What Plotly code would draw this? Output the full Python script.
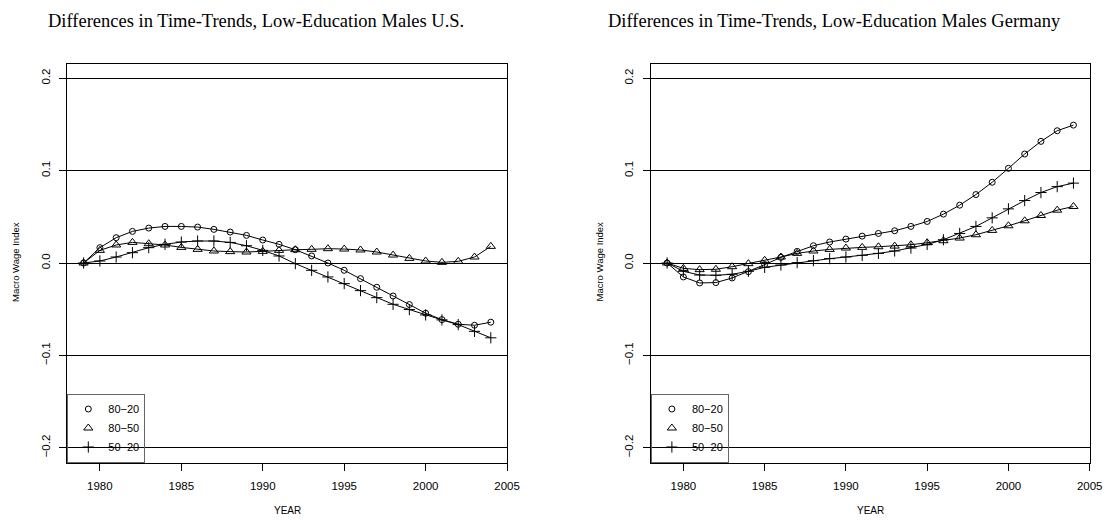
import plotly.graph_objects as go

# Data
years = list(range(1979, 2005))

us_80_20 = [0.0, 0.0166, 0.0274, 0.0342, 0.0378, 0.0396, 0.0396, 0.0389, 0.0364, 0.0335,
            0.0299, 0.0249, 0.0202, 0.0144, 0.0076, 0.0, -0.0079, -0.0169, -0.0263, -0.0357,
            -0.0450, -0.0544, -0.0613, -0.0663, -0.0674, -0.0641]
us_80_50 = [0.0, 0.0137, 0.0195, 0.0223, 0.0209, 0.0195, 0.0169, 0.0148, 0.0130, 0.0123,
            0.0119, 0.0126, 0.0137, 0.0144, 0.0148, 0.0155, 0.0151, 0.0141, 0.0119, 0.0086,
            0.0050, 0.0022, 0.0007, 0.0018, 0.0065, 0.0180]
us_50_20 = [0.0, 0.0022, 0.0065, 0.0112, 0.0166, 0.0202, 0.0227, 0.0238, 0.0238, 0.0223,
            0.0187, 0.0137, 0.0076, -0.0007, -0.0079, -0.0151, -0.0223, -0.0299, -0.0375, -0.0447,
            -0.0504, -0.0562, -0.0616, -0.0667, -0.0740, -0.0810]

de_80_20 = [0.0, -0.0151, -0.0216, -0.0212, -0.0162, -0.0094, -0.0018, 0.0061, 0.0126, 0.0187,
            0.0227, 0.0259, 0.0291, 0.0320, 0.0349, 0.0396, 0.0450, 0.0529, 0.0626, 0.0741,
            0.0874, 0.1025, 0.1180, 0.1317, 0.1432, 0.1493]
de_80_50 = [0.0, -0.0058, -0.0072, -0.0068, -0.0040, -0.0007, 0.0029, 0.0065, 0.0104, 0.0130,
            0.0147, 0.0162, 0.0169, 0.0176, 0.0183, 0.0198, 0.0219, 0.0241, 0.0270, 0.0306,
            0.0353, 0.0403, 0.0457, 0.0514, 0.0572, 0.0612]
de_50_20 = [0.0, -0.0090, -0.0130, -0.0133, -0.0122, -0.0090, -0.0047, -0.0022, 0.0004, 0.0025,
            0.0047, 0.0065, 0.0083, 0.0104, 0.0130, 0.0162, 0.0201, 0.0252, 0.0320, 0.0396,
            0.0489, 0.0586, 0.0676, 0.0763, 0.0827, 0.0865]

series_names = ["80\u221220", "80\u221250", "50\u221220"]
symbols = ["circle-open", "triangle-up-open", "cross-thin-open"]
sizes = [6, 8, 8]

titles = ["Differences in Time-Trends, Low-Education Males U.S.",
          "Differences in Time-Trends, Low-Education Males Germany"]
x_ticks = [1980, 1985, 1990, 1995, 2000, 2005]
y_ticks = [-0.2, -0.1, 0.0, 0.1, 0.2]

# the page body has an 8px margin, so the figure itself is 8px smaller each way
OFF = 8
W, H = 1119 - OFF, 520 - OFF


def px(x):
    return (x - OFF) / W


def py(y):
    return 1 - (y - OFF) / H


fig = go.Figure()

panels = [(us_80_20, us_80_50, us_50_20), (de_80_20, de_80_50, de_50_20)]
for p, panel in enumerate(panels):
    xa = "x" if p == 0 else "x2"
    ya = "y" if p == 0 else "y2"
    leg = "legend" if p == 0 else "legend2"
    for vals, sym, sz in zip(panel, symbols, sizes):
        fig.add_trace(go.Scatter(x=years, y=vals, mode="lines+markers",
                                 line=dict(color="black", width=1),
                                 marker=dict(symbol=sym, size=sz, color="black",
                                             line=dict(color="black", width=1)),
                                 xaxis=xa, yaxis=ya, showlegend=False, hoverinfo="x+y"))
    # legend entries show only the symbol, like the original
    for name, sym, sz in zip(series_names, symbols, sizes):
        fig.add_trace(go.Scatter(x=[None], y=[None], mode="markers", name=name,
                                 marker=dict(symbol=sym, size=sz, color="black",
                                             line=dict(color="black", width=1)),
                                 xaxis=xa, yaxis=ya, legend=leg))

tick_font = dict(family="Liberation Sans, Arial, sans-serif", size=11.5, color="black")
axis_common = dict(showline=True, mirror=True, linecolor="black", linewidth=1,
                   ticks="outside", ticklen=7, tickwidth=1, tickcolor="black",
                   tickfont=tick_font, zeroline=False)

box_x = [(68, 513), (658.5, 1102.5)]
box_y = (63.5, 462.5)

layout = dict(width=W, height=H, autosize=False,
              margin=dict(l=0, r=0, t=0, b=0),
              paper_bgcolor="white", plot_bgcolor="white",
              font=dict(family="Liberation Sans, Arial, sans-serif", color="black"))

for p in range(2):
    sfx = "" if p == 0 else "2"
    layout["xaxis" + sfx] = dict(axis_common, domain=[px(box_x[p][0]), px(box_x[p][1])],
                                 range=[1978, 2005], tickvals=x_ticks, showgrid=False,
                                 ticklabelstandoff=6,
                                 anchor="y" + sfx)
    layout["yaxis" + sfx] = dict(axis_common, domain=[py(box_y[1]), py(box_y[0])],
                                 range=[-0.216, 0.216], tickvals=y_ticks,
                                 ticktext=["\u22120.2", "\u22120.1", "0.0", "0.1", "0.2"],
                                 tickangle=-90, showgrid=True, gridcolor="black", gridwidth=1,
                                 ticklabelstandoff=5,
                                 anchor="x" + sfx)
    layout["legend" + sfx] = dict(x=px(box_x[p][0]), y=py(box_y[1]), xanchor="left",
                                  yanchor="bottom", bgcolor="rgba(0,0,0,0)",
                                  bordercolor="#666", borderwidth=1,
                                  font=dict(size=11, color="black"),
                                  itemwidth=30, tracegroupgap=0)

fig.update_layout(**layout)

annotations = []
title_cx = [259, 844]
for p in range(2):
    annotations.append(dict(text=titles[p], x=px(title_cx[p]), y=py(21), xref="paper", yref="paper",
                            showarrow=False, xanchor="center", yanchor="middle",
                            font=dict(family="Liberation Serif, serif", size=18.5, color="black")))
    annotations.append(dict(text="Macro Wage Index", x=px(box_x[p][0] - 53), y=py(262),
                            xref="paper", yref="paper", showarrow=False, textangle=-90,
                            xanchor="center", yanchor="middle",
                            font=dict(size=9.5, color="black")))
    annotations.append(dict(text="YEAR", x=px((box_x[p][0] + box_x[p][1]) / 2), y=py(510),
                            xref="paper", yref="paper", showarrow=False,
                            xanchor="center", yanchor="middle",
                            font=dict(size=10, color="black")))
fig.update_layout(annotations=annotations)

fig.write_html("out.html")
